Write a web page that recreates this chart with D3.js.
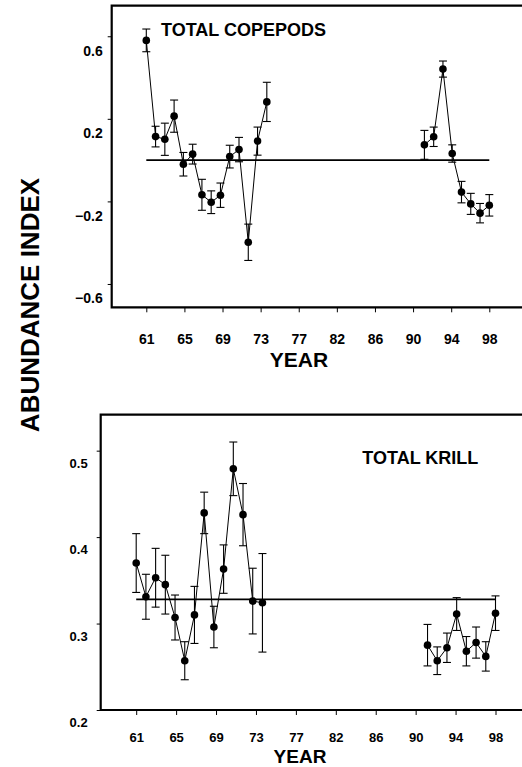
<!DOCTYPE html>
<html><head><meta charset="utf-8">
<script src="https://cdn.jsdelivr.net/npm/d3@7"></script>
<style>
body{margin:0;background:#fff}
svg{display:block}
text{font-family:Arial,"Liberation Sans",sans-serif;font-weight:bold;fill:#000}
</style>
</head><body>
<svg width="522" height="767"></svg>
<script>
// ---- data ----
const years = [61,62,63,64,65,66,67,68,69,70,71,72,73,74, 91,92,93,94,95,96,97,98];
const copepodValues = [0.58,0.114,0.101,0.213,-0.02,0.029,-0.168,-0.204,-0.170,0.017,0.051,-0.398,0.092,0.282,
                       0.074,0.113,0.441,0.032,-0.155,-0.212,-0.257,-0.219];
const copepodErrors = [0.055,0.05,0.078,0.078,0.057,0.048,0.075,0.055,0.059,0.055,0.059,0.088,0.068,0.095,
                       0.07,0.047,0.039,0.042,0.052,0.051,0.047,0.052];
const copepodMean = 0.0;
const krillValues = [0.370,0.331,0.353,0.345,0.307,0.257,0.310,0.428,0.296,0.363,0.479,0.426,0.326,0.324,
                     0.275,0.257,0.272,0.311,0.268,0.278,0.262,0.312];
const krillErrors = [0.034,0.026,0.034,0.034,0.026,0.022,0.033,0.024,0.024,0.028,0.031,0.036,0.038,0.057,
                     0.024,0.016,0.017,0.019,0.017,0.018,0.017,0.020];
const krillMean = 0.328;
const xTickLabels = ["61","65","69","73","77","82","86","90","94","98"];
const copepodTicks = [-0.6,-0.2,0.2,0.6];
const krillTicks = [0.2,0.3,0.4,0.5];
const yearStart = 61, yearEnd = 98;

const svg = d3.select("svg");

function panel(cfg){
  const g = svg.append("g");
  const x = d3.scaleLinear().domain([yearStart, yearEnd]).range(cfg.xRange);
  const y = d3.scaleLinear().domain(cfg.yDomain).range([cfg.bottom, cfg.top]);
  const xTicks = xTickLabels.map((d,i)=> yearStart + i*(yearEnd-yearStart)/(xTickLabels.length-1));

  // frame
  g.append("path")
    .attr("d", `M${cfg.right},${cfg.top}H${cfg.left}V${cfg.bottom}H${cfg.right}`)
    .attr("fill","none").attr("stroke","#000").attr("stroke-width",2.2);

  // y axis
  const ya = g.append("g").attr("transform",`translate(${cfg.left},0)`)
    .call(d3.axisLeft(y).tickValues(cfg.yTicks).tickSize(4).tickPadding(cfg.yPad)
      .tickFormat(d3.format(".1f")));
  ya.select(".domain").remove();
  ya.selectAll("line").attr("stroke","#000").attr("stroke-width",1);
  ya.selectAll("text").attr("font-size",cfg.yFont).attr("dy",cfg.yDy)
    .style("font-family","Arial,'Liberation Sans',sans-serif").style("font-weight","bold");

  // x axis
  const xa = g.append("g").attr("transform",`translate(0,${cfg.bottom})`)
    .call(d3.axisBottom(x).tickValues(xTicks).tickSize(5).tickPadding(cfg.xPad)
      .tickFormat((d,i)=>xTickLabels[i]));
  xa.select(".domain").remove();
  xa.selectAll("line").attr("stroke","#000").attr("stroke-width",1);
  xa.selectAll("text").attr("font-size",cfg.xFont)
    .style("font-family","Arial,'Liberation Sans',sans-serif").style("font-weight","bold");

  // YEAR label
  g.append("text").attr("x",cfg.yearX).attr("y",cfg.yearY).attr("text-anchor","middle")
    .attr("font-size",cfg.yearFont).text("YEAR");

  // mean line
  g.append("line").attr("x1",x(yearStart)).attr("x2",x(yearEnd))
    .attr("y1",y(cfg.mean)).attr("y2",y(cfg.mean))
    .attr("stroke","#000").attr("stroke-width",1.8);

  const data = years.map((yr,i)=>({yr, v:cfg.values[i], e:cfg.errors[i]}));
  // segments (break in gap years)
  const segs = [data.filter(d=>d.yr<=80), data.filter(d=>d.yr>80)];
  const line = d3.line().x(d=>x(d.yr)).y(d=>y(d.v));
  segs.forEach(s=> g.append("path").attr("d",line(s)).attr("fill","none")
    .attr("stroke","#000").attr("stroke-width",1));

  // error bars
  const eb = g.append("g").attr("stroke","#000").attr("stroke-width",1.1);
  data.forEach(d=>{
    const cx = x(d.yr), y1 = y(d.v+d.e), y2 = y(d.v-d.e);
    eb.append("line").attr("x1",cx).attr("x2",cx).attr("y1",y1).attr("y2",y2);
    eb.append("line").attr("x1",cx-4).attr("x2",cx+4).attr("y1",y1).attr("y2",y1);
    eb.append("line").attr("x1",cx-4).attr("x2",cx+4).attr("y1",y2).attr("y2",y2);
  });
  // dots
  g.selectAll("circle.pt").data(data).join("circle").attr("class","pt")
    .attr("cx",d=>x(d.yr)).attr("cy",d=>y(d.v)).attr("r",3.8).attr("fill","#000");

  // title
  g.append("text").attr("x",cfg.titleX).attr("y",cfg.titleY).attr("font-size",18).text(cfg.title);
}

panel({
  left:111.7, right:523, top:5.7, bottom:307.3,
  xRange:[146.3,489.3], yDomain:[-0.713,0.748],
  yTicks:copepodTicks, yPad:5, yDy:"1.35em", yFont:14,
  xPad:22, xFont:14,
  yearX:299, yearY:367, yearFont:21,
  mean:copepodMean, values:copepodValues, errors:copepodErrors,
  title:"TOTAL COPEPODS", titleX:161, titleY:35.7
});
panel({
  left:100.7, right:523, top:414.7, bottom:710,
  xRange:[136.2,495.5], yDomain:[0.2,0.5416],
  yTicks:krillTicks, yPad:9, yDy:"1.3em", yFont:13,
  xPad:18, xFont:13,
  yearX:300, yearY:762.5, yearFont:19,
  mean:krillMean, values:krillValues, errors:krillErrors,
  title:"TOTAL KRILL", titleX:362.3, titleY:464
});

// shared y label
svg.append("text").attr("transform","translate(39,305) rotate(-90)")
  .attr("text-anchor","middle").attr("font-size",26).text("ABUNDANCE INDEX");
</script>
</body></html>
